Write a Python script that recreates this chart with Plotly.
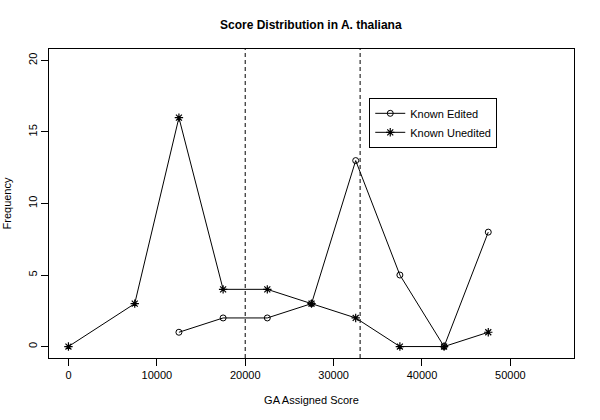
import plotly.graph_objects as go

unedited_x = [0, 7500, 12500, 17500, 22500, 27500, 32500, 37500, 42500, 47500]
unedited_y = [0, 3, 16, 4, 4, 3, 2, 0, 0, 1]
edited_x = [12500, 17500, 22500, 27500, 32500, 37500, 42500, 47500]
edited_y = [1, 2, 2, 3, 13, 5, 0, 8]
cutoffs = [20000, 33000]
x_ticks = [0, 10000, 20000, 30000, 40000, 50000]
y_ticks = [0, 5, 10, 15, 20]

FONT = "Liberation Sans, Arial, Helvetica, sans-serif"

fig = go.Figure()
fig.add_trace(go.Scatter(
    x=edited_x, y=edited_y, mode="lines+markers", name="Known Edited",
    line=dict(color="black", width=1),
    marker=dict(symbol="circle-open", size=6, color="black", line=dict(width=1)),
))
fig.add_trace(go.Scatter(
    x=unedited_x, y=unedited_y, mode="lines+markers", name="Known Unedited",
    line=dict(color="black", width=1),
    marker=dict(symbol="asterisk-open", size=7, color="black", line=dict(width=1.2, color="black")),
))
for c in cutoffs:
    fig.add_shape(type="line", x0=c, x1=c, y0=0, y1=1, xref="x", yref="paper",
                  line=dict(color="black", width=1, dash="4px,3px"))

fig.update_layout(
    width=600, height=420,
    margin=dict(l=49, r=26, t=49, b=62, autoexpand=False),
    paper_bgcolor="white", plot_bgcolor="white",
    font=dict(family=FONT, size=11, color="black"),
    title=dict(text="<b>Score Distribution in A. thaliana</b>", x=0.518, xanchor="center",
               y=1 - 25 / 420, yref="container", yanchor="middle", font=dict(size=12)),
    showlegend=True,
    legend=dict(x=0.61, y=0.842, xanchor="left", yanchor="top",
                bordercolor="black", borderwidth=1, bgcolor="white",
                font=dict(size=11), tracegroupgap=0, itemwidth=30),
)
fig.update_xaxes(
    range=[-2200, 57200], tickvals=x_ticks, ticktext=[str(v) for v in x_ticks],
    showgrid=False, zeroline=False, showline=True, mirror=True, linecolor="black", linewidth=1,
    ticks="outside", ticklen=7, tickcolor="black", automargin=False,
    title=dict(text="GA Assigned Score", standoff=16, font=dict(size=11)),
)
fig.update_yaxes(
    range=[-0.8, 20.8], tickvals=y_ticks, ticktext=[str(v) for v in y_ticks],
    showgrid=False, zeroline=False, showline=True, mirror=True, linecolor="black", linewidth=1,
    ticks="outside", ticklen=7, tickcolor="black", tickangle=-90, automargin=False,
    title=dict(text="Frequency", standoff=12, font=dict(size=11)),
)
fig.write_html("out.html", config={"displayModeBar": False},
               post_script="document.body.style.margin='0';")
